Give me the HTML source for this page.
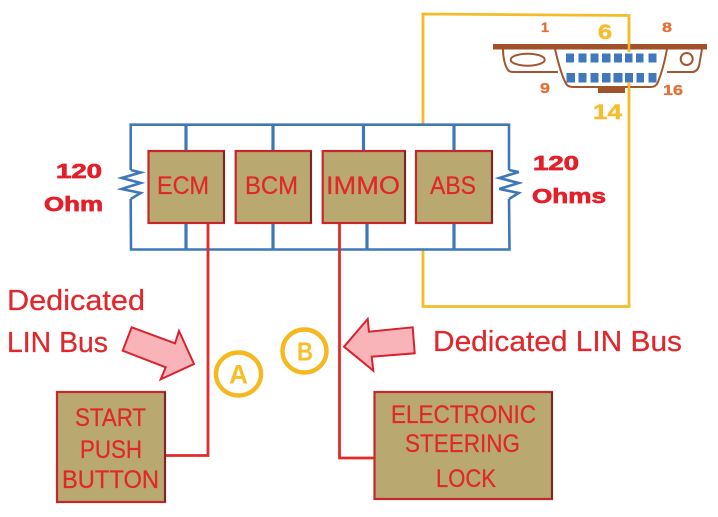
<!DOCTYPE html>
<html>
<head>
<meta charset="utf-8">
<style>
html,body{margin:0;padding:0;background:#fff;width:718px;height:517px;overflow:hidden}
svg{display:block;filter:blur(0.35px)}
text{font-family:"Liberation Sans",sans-serif}
.t{fill:#e0282c;stroke:#e0282c;stroke-width:.25px}
.b{fill:#e3202a;font-weight:bold;stroke:#e3202a;stroke-width:.7px}
.o{fill:#e2703a;font-weight:bold;stroke:#e2703a;stroke-width:.35px}
.y{fill:#f7bd2a;font-weight:bold;stroke:#f7bd2a;stroke-width:.5px}
.l{fill:#f7bd2a;font-weight:bold}
</style>
</head>
<body>
<svg width="718" height="517" viewBox="0 0 718 517" xmlns="http://www.w3.org/2000/svg">
<!-- yellow wiring -->
<g fill="none" stroke="#f5bb2b" stroke-width="2.800">
<path d="M423 125V14L629 15.500V52"/>
<path d="M423 249V306.500H629V82"/>
</g>
<!-- CAN bus -->
<g fill="none" stroke="#3f78b8" stroke-width="2.600">
<path d="M130.700 170V124.700H509V170"/>
<path d="M130.700 199L131 249.500H509.500L509 199"/>
<path d="M130.700 170L140.700 172.500L121.700 178L140.700 183L121.700 189L140.700 193L130.700 199"/>
<path d="M509 170L518.700 172L499.300 178L518.700 183L499.300 189L518.700 193L509 199"/>
</g>
<g fill="none" stroke="#3f78b8" stroke-width="3.200">
<path d="M186 125V151M273 125V151M363.500 125V151M454 125V151"/>
<path d="M186 223V249M273 223V249M367 223V249M454 223V249"/>
</g>
<!-- red wires -->
<g fill="none" stroke="#e32b2b" stroke-width="2.800">
<path d="M208 223V455.500H165"/>
<path d="M339.500 223V458H375"/>
</g>
<!-- modules -->
<g fill="#b9a86f" stroke="#c5282a" stroke-width="2.200">
<rect x="148.500" y="151" width="75.500" height="72"/>
<rect x="235.700" y="151" width="75.300" height="72"/>
<rect x="322.700" y="151" width="82.300" height="72"/>
<rect x="416" y="151" width="76" height="72"/>
<rect x="57" y="392" width="108" height="110"/>
<rect x="374.500" y="392" width="177.500" height="107"/>
</g>
<g fill="none" stroke="#5e2a20" stroke-width="1.500">
<path d="M224 151V223M311 151V223M405 151V223M492 151V223M165 392V502M552 392V499"/>
</g>
<!-- module labels -->
<g font-size="25">
<text class="t" x="157" y="194" textLength="52" lengthAdjust="spacingAndGlyphs">ECM</text>
<text class="t" x="245" y="194" textLength="53" lengthAdjust="spacingAndGlyphs">BCM</text>
<text class="t" x="326" y="194" textLength="74" lengthAdjust="spacingAndGlyphs">IMMO</text>
<text class="t" x="430" y="194" textLength="46" lengthAdjust="spacingAndGlyphs">ABS</text>
<text class="t" x="75" y="426" textLength="71" lengthAdjust="spacingAndGlyphs">START</text>
<text class="t" x="80" y="458" textLength="62" lengthAdjust="spacingAndGlyphs">PUSH</text>
<text class="t" x="62" y="488" textLength="97" lengthAdjust="spacingAndGlyphs">BUTTON</text>
<text class="t" x="391" y="423" textLength="145" lengthAdjust="spacingAndGlyphs">ELECTRONIC</text>
<text class="t" x="405" y="452" textLength="115" lengthAdjust="spacingAndGlyphs">STEERING</text>
<text class="t" x="436" y="487" textLength="60" lengthAdjust="spacingAndGlyphs">LOCK</text>
</g>
<!-- dedicated labels -->
<g font-size="29">
<text class="t" x="7" y="310" textLength="138" lengthAdjust="spacingAndGlyphs">Dedicated</text>
<text class="t" x="7" y="352" textLength="101" lengthAdjust="spacingAndGlyphs">LIN Bus</text>
<text class="t" x="433" y="351" textLength="249" lengthAdjust="spacingAndGlyphs">Dedicated LIN Bus</text>
</g>
<!-- ohm labels -->
<g font-size="20">
<text class="b" x="56" y="178" textLength="46" lengthAdjust="spacingAndGlyphs">120</text>
<text class="b" x="44" y="211" textLength="59" lengthAdjust="spacingAndGlyphs">Ohm</text>
<text class="b" x="533" y="170" textLength="46" lengthAdjust="spacingAndGlyphs">120</text>
<text class="b" x="532" y="203" textLength="74" lengthAdjust="spacingAndGlyphs">Ohms</text>
</g>
<!-- arrows -->
<g fill="#f9b4ba" stroke="#d8232f" stroke-width="2">
<polygon points="131.700,327.300 175,343.300 179,331 194,364 160.700,379.300 165.700,367.300 122.700,350.700"/>
<polygon points="344,346.700 367.700,319 369,331.700 412.700,327.300 414.700,353.300 371.700,356.700 373.300,370.700"/>
</g>
<!-- circles -->
<g fill="none" stroke="#f5b81f" stroke-width="4.400">
<ellipse cx="238.500" cy="374" rx="22.500" ry="21.500"/>
<ellipse cx="304.500" cy="351" rx="22" ry="21.500"/>
</g>
<text class="l" x="238.500" y="383.500" font-size="27" text-anchor="middle" textLength="19" lengthAdjust="spacingAndGlyphs">A</text>
<text class="l" x="305" y="360.500" font-size="26" text-anchor="middle" textLength="16" lengthAdjust="spacingAndGlyphs">B</text>
<!-- OBD connector -->
<g fill="none" stroke="#a5552e" stroke-width="2">
<path d="M503 49C503 58 505 66 508 70Q509 72 514 72H558"/>
<path d="M667 72H692Q697 72 699 66L702 49"/>
<path d="M555 49C558 62 562 78 567 85Q569 87 574 87H651Q656 87 658 82C662 72 665 60 667 49"/>
<ellipse cx="527.700" cy="59.700" rx="17" ry="6"/>
<circle cx="686.700" cy="59" r="6"/>
</g>
<rect x="493" y="44" width="214" height="5.500" fill="#a0522a"/>
<rect x="598" y="87" width="27" height="6" fill="#a0522a"/>
<g fill="#4077bd">
<rect x="566" y="53.500" width="8" height="9"/><rect x="578.500" y="53.500" width="8" height="9"/><rect x="590.500" y="53.500" width="8" height="9"/><rect x="602" y="53.500" width="8.500" height="9"/><rect x="614" y="53.500" width="8" height="9"/><rect x="625" y="53.500" width="7.500" height="9"/><rect x="636" y="53.500" width="7.500" height="9"/><rect x="648.500" y="53.500" width="8" height="9"/>
<rect x="566.500" y="73" width="8.500" height="9.500"/><rect x="578.500" y="73" width="8" height="9.500"/><rect x="590.500" y="73" width="8" height="9.500"/><rect x="602" y="73" width="8.500" height="9.500"/><rect x="613.500" y="73" width="9" height="9.500"/><rect x="625" y="73" width="8" height="9.500"/><rect x="636.500" y="73" width="7.500" height="9.500"/><rect x="648.500" y="73" width="8" height="9.500"/>
</g>
<path d="M629 15V52M629 82V100" stroke="#f5bb2b" stroke-width="2.500" fill="none"/>
<text class="o" x="541" y="32" font-size="14" textLength="8" lengthAdjust="spacingAndGlyphs">1</text>
<text class="o" x="662" y="32" font-size="14" textLength="10" lengthAdjust="spacingAndGlyphs">8</text>
<text class="o" x="540" y="93" font-size="15" textLength="10" lengthAdjust="spacingAndGlyphs">9</text>
<text class="o" x="663" y="95" font-size="15" textLength="20" lengthAdjust="spacingAndGlyphs">16</text>
<text class="y" x="598" y="39" font-size="21" textLength="14" lengthAdjust="spacingAndGlyphs">6</text>
<text class="y" x="593" y="119" font-size="21" textLength="29" lengthAdjust="spacingAndGlyphs">14</text>
</svg>
</body>
</html>
